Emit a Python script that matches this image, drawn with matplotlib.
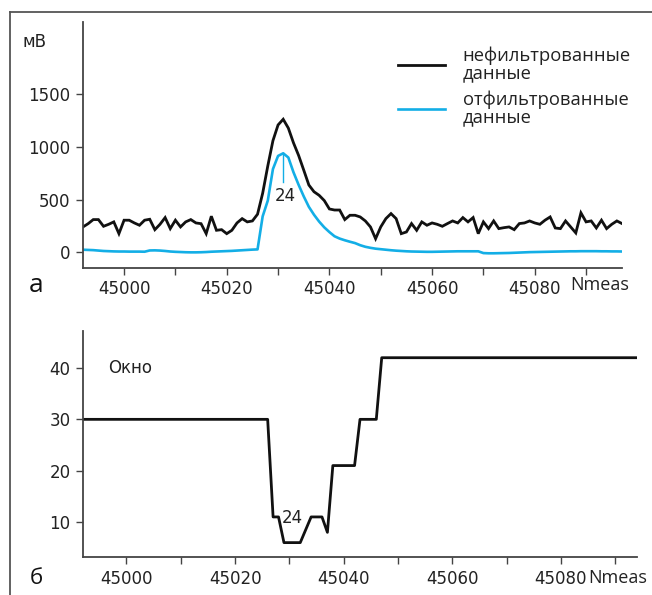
import matplotlib
matplotlib.use("Agg")
import matplotlib.pyplot as plt
from matplotlib.lines import Line2D
from matplotlib.ticker import MultipleLocator

# ---------------- data ----------------
n_start = 44992
raw_mv = [239, 270, 309, 309, 245, 264, 287, 175, 303, 303,
          277, 255, 303, 312, 213, 264, 328, 223, 303, 239,
          287, 309, 277, 270, 175, 341, 207, 213, 175, 207,
          277, 318, 287, 296, 360, 560, 820, 1060, 1210, 1264,
          1180, 1040, 920, 780, 638, 574, 540, 490, 410, 400,
          400, 309, 350, 350, 334, 296, 239, 127, 239, 318,
          366, 318, 175, 191, 271, 207, 287, 255, 277, 264,
          245, 271, 296, 277, 328, 287, 328, 175, 287, 223,
          296, 223, 232, 239, 213, 271, 277, 296, 277, 264,
          303, 334, 229, 223, 296, 239, 182, 373, 287, 296,
          229, 303, 223, 264, 296, 271]
filt_mv = [22, 20, 18, 14, 10, 8, 6, 5, 5, 4,
           4, 4, 3, 15, 16, 14, 10, 5, 2, 0,
           -2, -3, -3, -2, 0, 3, 5, 7, 9, 11,
           14, 17, 20, 23, 25, 340, 490, 790, 915, 940,
           900, 760, 640, 530, 430, 355, 290, 235, 190, 150,
           128, 112, 98, 85, 65, 50, 40, 32, 27, 22,
           17, 13, 10, 7, 5, 4, 3, 2, 2, 3,
           4, 5, 6, 7, 7, 7, 7, 7, -10, -12,
           -12, -11, -10, -9, -7, -5, -3, -1, 0, 1,
           2, 3, 4, 5, 6, 7, 7, 8, 8, 8,
           8, 7, 7, 6, 6, 5]
nmeas = list(range(n_start, n_start + len(raw_mv)))

win_n = [44992, 45026, 45027, 45028, 45029, 45032, 45034, 45036, 45037, 45038,
         45042, 45043, 45046, 45047, 45094]
win_v = [30, 30, 11, 11, 6, 6, 11, 11, 8, 21, 21, 30, 30, 42, 42]

peak_n = 45031
peak_label = "24"

yticks_a = [0, 500, 1000, 1500]
yticks_b = [10, 20, 30, 40]

legend_labels = ["нефильтрованные\nданные", "отфильтрованные\nданные"]

# ---------------- figure ----------------
W, H = 652, 595
fig = plt.figure(figsize=(W / 100, H / 100), dpi=100)
plt.rcParams['font.family'] = ['DejaVu Sans']

def fx(px):
    return px / W

def fy(py):
    return 1 - py / H

black = '#111111'
blue = '#13aee6'
spine_c = '#444444'
txt_c = '#222222'

# outer frame
fig.add_artist(Line2D([fx(10), fx(10)], [fy(12), fy(600)], color='#555555', lw=1.3,
                      transform=fig.transFigure))
fig.add_artist(Line2D([fx(10), fx(655)], [fy(12), fy(12)], color='#555555', lw=1.3,
                      transform=fig.transFigure))

def style_axes(ax):
    for s in ['top', 'right']:
        ax.spines[s].set_visible(False)
    for s in ['left', 'bottom']:
        ax.spines[s].set_color(spine_c)
        ax.spines[s].set_linewidth(1.3)
    ax.tick_params(which='both', direction='out', length=5, width=1.0, color=spine_c,
                   labelsize=12, labelcolor=txt_c, pad=4)
    ax.xaxis.set_major_locator(MultipleLocator(20))
    ax.xaxis.set_minor_locator(MultipleLocator(10))

# ---------- panel a ----------
axa = fig.add_axes([fx(83), fy(268), fx(622) - fx(83), fy(22) - fy(268)])
style_axes(axa)
axa.plot(nmeas, raw_mv, color=black, lw=2.0, solid_joinstyle='miter')
axa.plot(nmeas, filt_mv, color=blue, lw=1.9)
axa.set_xlim(44992, 45097)
axa.set_ylim(-152, 2190)
axa.set_yticks(yticks_a)
pk = filt_mv[nmeas.index(peak_n)]
axa.plot([peak_n, peak_n], [pk, 670], color=blue, lw=1.0)
axa.text(peak_n + 0.5, 535, peak_label, ha='center', va='center', fontsize=12, color=txt_c)
axa.text(-0.09, 1.0 - 20 / 246, "мВ", transform=axa.transAxes, ha='center', va='center',
         fontsize=12, color=txt_c)

handles = [Line2D([], [], color=black, lw=2.0), Line2D([], [], color=blue, lw=1.9)]
leg = axa.legend(handles, legend_labels, loc='upper left', frameon=False,
                 bbox_to_anchor=(fx(382), fy(30)), bbox_transform=fig.transFigure,
                 handlelength=2.55, handletextpad=0.95, labelspacing=0.45,
                 prop={'family': 'Open Sans', 'size': 13.2})
for t in leg.get_texts():
    t.set_linespacing(0.95)
    t.set_color(txt_c)

fig.text(fx(570), fy(285), "Nmeas", ha='left', va='center', fontsize=13,
         family='Open Sans', color=txt_c)
fig.text(fx(36), fy(285), "а", ha='center', va='center', fontsize=19,
         family='Open Sans', color=black)

# ---------- panel b ----------
axb = fig.add_axes([fx(83), fy(557), fx(637) - fx(83), fy(331) - fy(557)])
style_axes(axb)
axb.plot(win_n, win_v, color=black, lw=2.0)
axb.set_xlim(44992, 45094)
axb.set_ylim(3.2, 47.2)
axb.set_yticks(yticks_b)
axb.text(45030.5, 10.8, peak_label, ha='center', va='center', fontsize=12, color=txt_c)
axb.text(0.045, 1.0 - 37 / 226, "Окно", transform=axb.transAxes, ha='left', va='center',
         fontsize=12, color=txt_c)

fig.text(fx(588), fy(578), "Nmeas", ha='left', va='center', fontsize=13,
         family='Open Sans', color=txt_c)
fig.text(fx(36), fy(578), "б", ha='center', va='center', fontsize=16,
         family='Open Sans', color=black)

fig.savefig("out.png", dpi=100)
